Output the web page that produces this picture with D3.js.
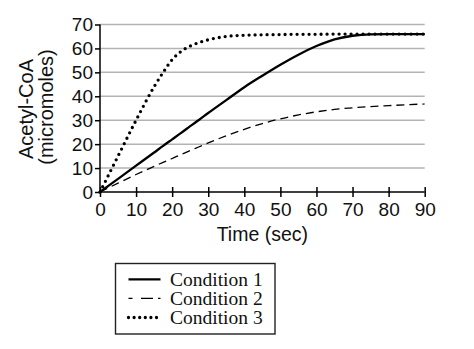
<!DOCTYPE html>
<html><head><meta charset="utf-8">
<script src="https://cdn.jsdelivr.net/npm/d3@7"></script>
<style>body{margin:0;background:#fff}svg{display:block}</style>
</head><body>
<script>
const times = [0,5,10,15,17.5,20,22.5,25,27.5,30,35,40,45,50,55,60,65,70,75,80,90];
const cond1 = [0,5.5,11,16.5,19.3,22,24.7,27.5,30.2,33,38.4,43.8,48.6,53.2,57.4,61,63.8,65.3,65.9,66,66];
const cond2 = [0,3.7,7.3,10.7,12.4,14,15.7,17.3,18.9,20.5,23.5,26.2,28.6,30.6,32.2,33.5,34.5,35.2,35.7,36.1,36.8];
const cond3 = [0,15,30,44,50,55.3,58.8,61,62.5,63.6,65,65.5,65.7,65.8,65.9,65.9,66,66,66,66,66];
const yTicks = [0,10,20,30,40,50,60,70];
const xTicks = [0,10,20,30,40,50,60,70,80,90];
const seriesNames = ["Condition 1","Condition 2","Condition 3"];
const xTitle = "Time (sec)";
const yTitle = ["Acetyl-CoA","(micromoles)"];

const W=474,H=349;
const svg=d3.select("body").append("svg").attr("width",W).attr("height",H);
const x=d3.scaleLinear().domain([0,90]).range([100,424.7]);
const y=d3.scaleLinear().domain([0,70]).range([192,24.5]);

// gridlines
svg.append("g").selectAll("line").data(yTicks.slice(1)).join("line")
  .attr("x1",x(0)).attr("x2",x(90)).attr("y1",d=>y(d)).attr("y2",d=>y(d))
  .attr("stroke","#b3b3b3").attr("stroke-width",1.5);

const font="Arial, 'Liberation Sans', Helvetica, sans-serif";
// y axis
const ya=svg.append("g").attr("transform",`translate(${x(0)},0)`)
  .call(d3.axisLeft(y).tickValues(yTicks).tickSize(5).tickPadding(2).tickFormat(d3.format("d")));
ya.select(".domain").attr("stroke","#000").attr("stroke-width",1.5).attr("d",`M0,${y(70)}V${y(0)}`);
ya.selectAll(".tick line").attr("stroke","#000").attr("stroke-width",1.5);
ya.selectAll("text").attr("font-family",font).attr("font-size",19).attr("fill","#111").attr("dy","0.34em");

// x axis
const xa=svg.append("g").attr("transform",`translate(0,${y(0)})`)
  .call(d3.axisBottom(x).tickValues(xTicks).tickSize(5).tickPadding(6).tickFormat(d3.format("d")));
xa.select(".domain").attr("stroke","#000").attr("stroke-width",1.5).attr("d",`M${x(0)},0H${x(90)}`);
xa.selectAll(".tick line").attr("stroke","#000").attr("stroke-width",1.5).attr("y1",-5).attr("y2",5);
xa.selectAll("text").attr("font-family",font).attr("font-size",19).attr("fill","#111");

svg.append("text").attr("x",(x(0)+x(90))/2).attr("y",241).attr("text-anchor","middle")
  .attr("font-family",font).attr("font-size",19.5).attr("fill","#111").text(xTitle);
svg.append("text").attr("transform","translate(33,109) rotate(-90)").attr("text-anchor","middle")
  .attr("font-family",font).attr("font-size",20).attr("fill","#111").text(yTitle[0]);
svg.append("text").attr("transform","translate(53,107) rotate(-90)").attr("text-anchor","middle")
  .attr("font-family",font).attr("font-size",20).attr("fill","#111").text(yTitle[1]);

const styles=[
  {w:2.3,dash:null,cap:"butt"},
  {w:1.3,dash:"8,5",cap:"butt"},
  {w:3.3,dash:"0,6",cap:"round"}
];
const data=[cond1,cond2,cond3];
const line=d3.line().x((d,i)=>x(times[i])).y(d=>y(d)).curve(d3.curveMonotoneX);
data.forEach((s,k)=>{
  svg.append("path").attr("d",line(s)).attr("fill","none").attr("stroke","#000")
    .attr("stroke-width",styles[k].w).attr("stroke-dasharray",styles[k].dash)
    .attr("stroke-linecap",styles[k].cap);
});

// legend
svg.append("rect").attr("x",115.5).attr("y",263.5).attr("width",159.5).attr("height",70.5)
  .attr("fill","none").attr("stroke","#222").attr("stroke-width",1.4);
const legY=[279.3,298.3,317.5];
const legDash=[null,"4,8.5,12,5","0,5.6"];
seriesNames.forEach((n,k)=>{
  svg.append("line").attr("x1",128.5).attr("x2",160.5).attr("y1",legY[k]).attr("y2",legY[k])
    .attr("stroke","#000").attr("stroke-width",styles[k].w)
    .attr("stroke-dasharray",legDash[k]).attr("stroke-linecap",styles[k].cap);
  svg.append("text").attr("x",170).attr("y",legY[k]+6.5)
    .attr("font-family","'Liberation Serif','Times New Roman',Times,serif").attr("font-size",19.5)
    .attr("fill","#111").text(n);
});
</script>
</body></html>
